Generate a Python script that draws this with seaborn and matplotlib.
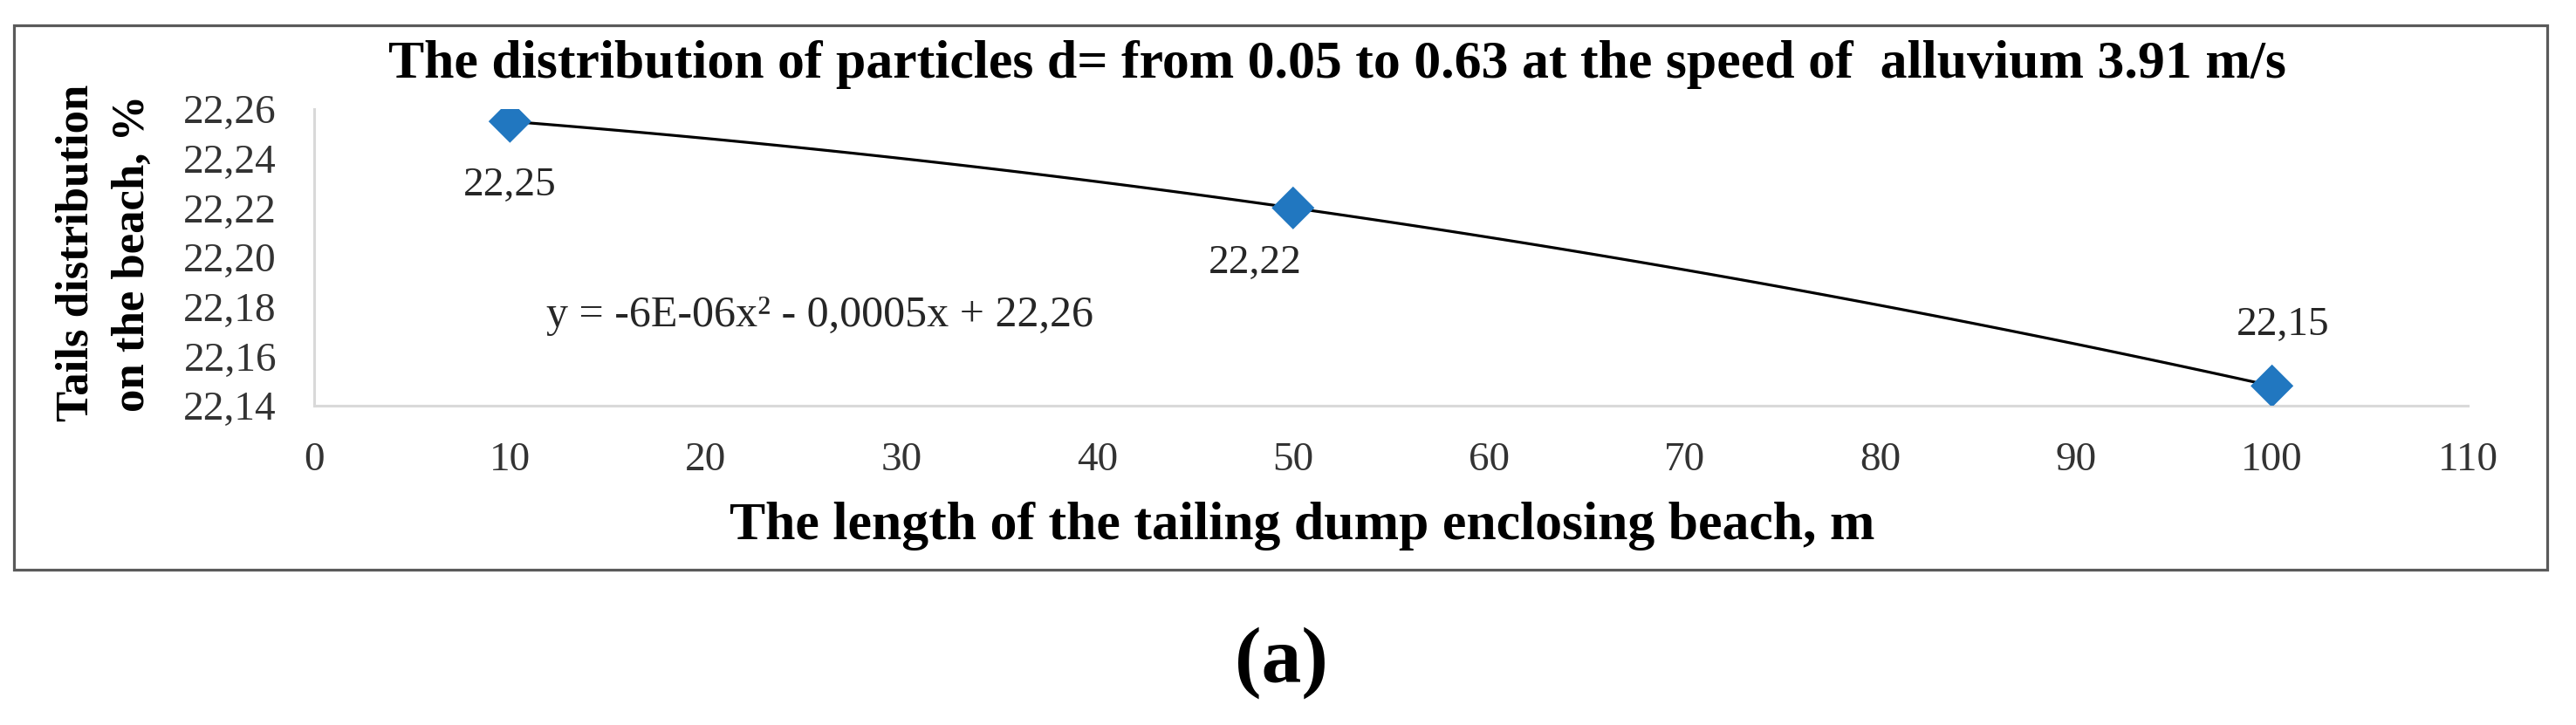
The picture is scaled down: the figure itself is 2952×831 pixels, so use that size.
import matplotlib
matplotlib.use("Agg")
import matplotlib.pyplot as plt
import seaborn as sns
import numpy as np
import pandas as pd
from matplotlib.patches import Rectangle

# ---- data ----
beach_length = [10, 50, 100]
tails_share = [22.255, 22.220, 22.148]
point_labels = ["22,25", "22,22", "22,15"]
x_ticks = [0, 10, 20, 30, 40, 50, 60, 70, 80, 90, 100, 110]
y_ticks = [22.14, 22.16, 22.18, 22.20, 22.22, 22.24, 22.26]
y_tick_labels = ["22,14", "22,16", "22,18", "22,20", "22,22", "22,24", "22,26"]
title_text = "The distribution of particles d= from 0.05 to 0.63 at the speed of  alluvium 3.91 m/s"
x_label = "The length of the tailing dump enclosing beach, m"
y_label = "Tails distribution\non the beach, %"
equation_text = "y = -6E-06x\u00b2 - 0,0005x + 22,26"
panel_text = "(a)"

df = pd.DataFrame({"x": beach_length, "y": tails_share})

sns.set_theme(style="white")
plt.rcParams["font.family"] = ["Liberation Serif", "DejaVu Serif"]

W, H = 2952, 831
fig = plt.figure(figsize=(W / 100, H / 100), dpi=100)
ax = fig.add_axes([360 / W, 1 - 465 / H, (2828 - 360) / W, (465 - 125) / H])

# outer chart border
fig.patches.append(Rectangle((16 / W, 1 - 653 / H), (2919 - 16) / W, (653 - 29) / H,
                             transform=fig.transFigure, fill=False,
                             edgecolor="#5a5a5a", linewidth=2.3, zorder=0))

# polynomial trendline (order 2) through data
sns.regplot(data=df, x="x", y="y", order=2, ci=None, scatter=False, truncate=True,
            line_kws=dict(color="black", linewidth=2.3, zorder=2), ax=ax)
sns.scatterplot(data=df, x="x", y="y", marker="D", s=25 ** 2, color="#2177C0",
                edgecolor="none", zorder=3, ax=ax)

offsets = [(0, -53), (-31, -46), (9, 50)]
for xv, yv, lab, off in zip(beach_length, tails_share, point_labels, offsets):
    ax.annotate(lab, (xv, yv), xytext=off, textcoords="offset points",
                ha="center", va="center", fontsize=34, color="#262626")

ax.text((940 - 360) / (2828 - 360), (465 - 362) / 340, equation_text,
        transform=ax.transAxes, ha="center", va="center", fontsize=36, color="#262626")

ax.set_xlim(0, 110)
ax.set_ylim(22.14, 22.26)
ax.set_xticks(x_ticks)
ax.set_xticklabels([str(t) for t in x_ticks])
ax.set_yticks(y_ticks)
ax.set_yticklabels(y_tick_labels)
ax.tick_params(axis="both", length=0, labelsize=34, labelcolor="#333333")
ax.tick_params(axis="y", pad=31)
ax.tick_params(axis="x", pad=30)

for side in ["top", "right"]:
    ax.spines[side].set_visible(False)
for side in ["left", "bottom"]:
    ax.spines[side].set_color("#d9d9d9")
    ax.spines[side].set_linewidth(2.2)
ax.grid(False)

ax.set_xlabel(x_label, fontsize=44.5, fontweight="bold", color="black")
ax.xaxis.set_label_coords((1492 - 360) / (2828 - 360), (465 - 603) / 340)
ax.xaxis.label.set_va("center")
ax.set_ylabel(y_label, fontsize=38, fontweight="bold", color="black",
              multialignment="center", linespacing=1.45)
ax.yaxis.set_label_coords((120 - 360) / (2828 - 360), (465 - 290) / 340)
ax.yaxis.label.set_va("center")

fig.text(1532 / W, 1 - 74 / H, title_text, ha="center", va="center",
         fontsize=44.5, fontweight="bold", color="black")
fig.text(1468 / W, 1 - 760 / H, panel_text, ha="center", va="center",
         fontsize=66, fontweight="bold", color="black")

fig.savefig("out.png", dpi=100, facecolor="white")
